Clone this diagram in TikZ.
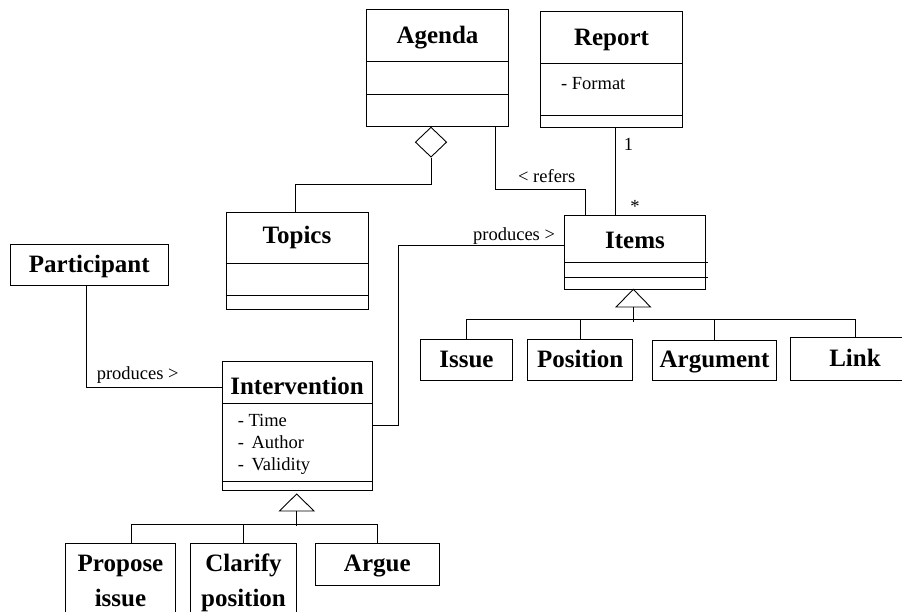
\documentclass[tikz,border=0pt]{standalone}
\usepackage{fontspec}
\setmainfont{Liberation Serif}
\usetikzlibrary{calc,shapes.geometric}
\newcommand\clsbox[5]{\node[cls, minimum width=#4pt, minimum height=#5pt] (#1) at (#2,#3) {};}
\begin{document}
\begin{tikzpicture}[x=1pt,y=-1pt, line width=0.9pt,
  cls/.style={draw, rectangle, inner sep=0pt, outer sep=0pt, anchor=north west},
  ttl/.style={font=\bfseries\fontsize{25}{37}\selectfont, inner sep=0pt, anchor=base},
  ttl2/.style={font=\bfseries\fontsize{25}{34.5}\selectfont, inner sep=0pt, anchor=north, align=center},
  lbl/.style={font=\fontsize{18.5}{22}\selectfont, inner sep=0pt, anchor=base west},
  gen/.style={draw, fill=white}]
\useasboundingbox (0,0) rectangle (902,612);
\clip (0,0) rectangle (902,612);

% class boxes
\clsbox{agenda}{366.7}{9.3}{141.6}{117.4}
\clsbox{report}{540.7}{11.7}{141.6}{116}
\clsbox{topics}{226}{212.7}{142.3}{96.3}
\clsbox{items}{564.3}{215}{141.4}{74.3}
\clsbox{participant}{10}{244}{158.7}{41}
\clsbox{intervention}{222.3}{361}{149.7}{129}
\clsbox{issue}{420.7}{339}{91.6}{41}
\clsbox{position}{527.7}{339}{105}{41}
\clsbox{argument}{652.3}{340}{124.4}{40}
\clsbox{link}{790}{337.7}{130}{42.3}
\clsbox{propose}{65.7}{543.3}{109.6}{80}
\clsbox{clarify}{190.3}{543.3}{106.4}{80}
\clsbox{argue}{315.3}{543.3}{124}{41.7}

% compartments
\draw (agenda.west |- 0,61.7) -- (agenda.east |- 0,61.7);
\draw (agenda.west |- 0,94.3) -- (agenda.east |- 0,94.3);
\draw (report.west |- 0,63.3) -- (report.east |- 0,63.3);
\draw (report.west |- 0,115) -- (report.east |- 0,115);
\draw (topics.west |- 0,263.3) -- (topics.east |- 0,263.3);
\draw (topics.west |- 0,295.7) -- (topics.east |- 0,295.7);
\draw (items.west |- 0,262.7) -- (707.7,262.7);
\draw (items.west |- 0,277.3) -- (707.7,277.3);
\draw (intervention.west |- 0,403.3) -- (373.3,403.3);
\draw (intervention.west |- 0,481.7) -- (intervention.east |- 0,481.7);

% titles
\node[ttl] (agendaT) at (437.5,44) {Agenda};
\node[ttl] (reportT) at (611.5,46) {Report};
\node[ttl] (topicsT) at (297,244) {Topics};
\node[ttl] (itemsT) at (635,249) {Items};
\node[ttl] (participantT) at (89.3,272.3) {Participant};
\node[ttl] (interventionT) at (297,394) {Intervention};
\node[ttl] (issueT) at (466.5,367.3) {Issue};
\node[ttl] (positionT) at (580.2,367.3) {Position};
\node[ttl] (argumentT) at (714.5,367.3) {Argument};
\node[ttl] (linkT) at (855,366.7) {Link};
\node[ttl] (argueT) at (377.3,571.7) {Argue};
\node[ttl2] (proposeT) at (120.5,555) {Propose\\issue};
\node[ttl2] (clarifyT) at (243.5,553.5) {Clarify\\position};

% attributes and labels
\node[lbl] (fmt) at (560.7,90) {- Format};
\node[lbl] (time) at (237.3,426) {- Time};
\node[lbl] (author) at (237.3,448.3) {-~\hspace{3pt}Author};
\node[lbl] (validity) at (237.3,470) {-~\hspace{3pt}Validity};
\node[lbl] (refers) at (517.7,182.7) {< refers};
\node[lbl] (one) at (623.3,150.7) {1};
\node[lbl] (star) at (630,213) {*};
\node[lbl] (prod1) at (472.7,240.7) {produces >};
\node[lbl] (prod2) at (96.3,379.3) {produces >};

% aggregation Agenda - Topics
\node[diamond, draw, fill=white, minimum width=31.4pt, minimum height=30pt, inner sep=0pt, anchor=north] (dia) at ($(agenda.south west)+(64.3,0)$) {};
\draw (dia.south) -- ++(0,27.3) -| ($(topics.north west)+(69,0)$);

% associations
\draw ($(agenda.south west)+(129,0)$) -- ++(0,62.3) -| ($(items.north west)+(20.7,0)$);
\draw ($(report.south west)+(75,0)$) coordinate (rp) -- (rp |- items.north);
\draw ($(items.north west)+(0,30.7)$) -- ++(-166.3,0) |- (intervention.east);
\draw ($(participant.south west)+(76.3,0)$) |- ($(intervention.north west)+(0,26.7)$);

% generalization Items
\coordinate (gi) at ($(items.south west)+(69,0)$);
\draw[gen] (gi) -- ++(17.2,17.7) -- ++(-34.4,0) -- cycle;
\draw ($(gi)+(0,17.7)$) -- ++(0,15);
\draw (issue.north) -- ++(0,-19.7) -| (link.north);
\draw (position.north) -- ++(0,-19.7);
\draw (argument.north) -- ++(0,-20.7);

% generalization Intervention
\coordinate (gv) at ($(intervention.south west)+(74.4,4)$);
\draw[gen] (gv) -- ++(17.3,17) -- ++(-34.6,0) -- cycle;
\draw ($(gv)+(0,17)$) -- ++(0,15);
\draw ($(propose.north west)+(65.3,0)$) -- ++(0,-19.3) -| (argue.north);
\draw (clarify.north) -- ++(0,-19.3);
\end{tikzpicture}
\end{document}
